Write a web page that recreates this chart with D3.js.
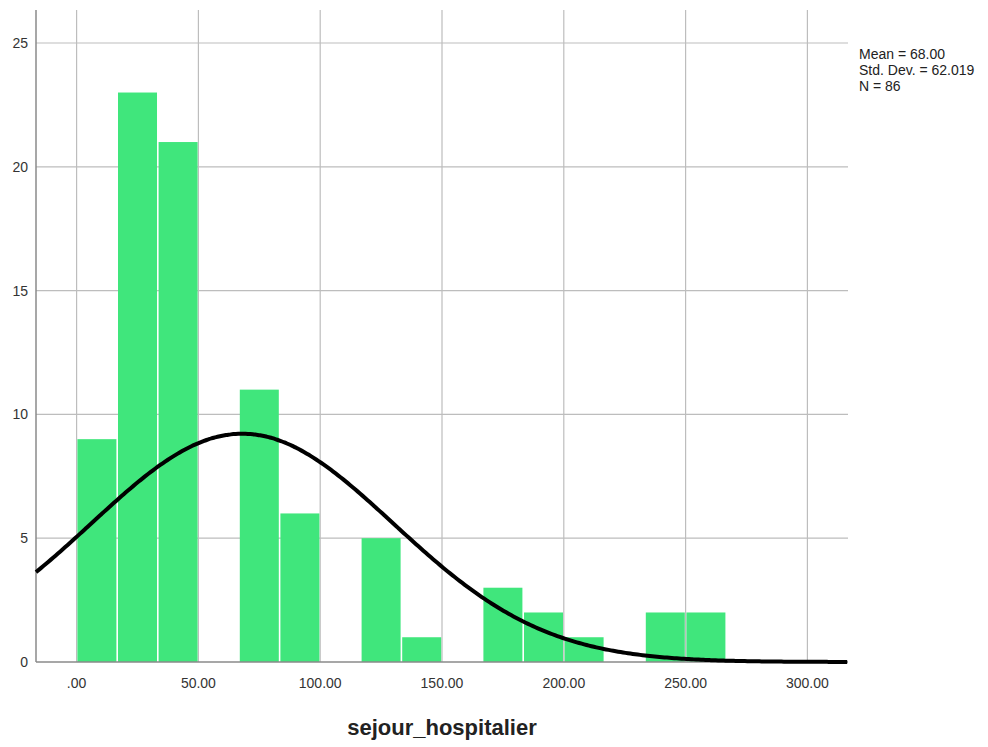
<!DOCTYPE html>
<html><head><meta charset="utf-8">
<script src="https://cdn.jsdelivr.net/npm/d3@7"></script>
<style>body{margin:0;background:#fff;} svg{display:block;font-family:"Liberation Sans",Arial,sans-serif;}</style>
</head><body>
<svg id="chart" width="988" height="747"></svg>
<script>
const binStarts = [0, 16.667, 33.333, 50, 66.667, 83.333, 100, 116.667, 133.333, 150, 166.667, 183.333, 200, 216.667, 233.333, 250];
const counts    = [9, 23, 21, 0, 11, 6, 0, 5, 1, 0, 3, 2, 1, 0, 2, 2];
const binWidth = 16.667;
const xTicks = [0, 50, 100, 150, 200, 250, 300];
const xTickLabels = [".00", "50.00", "100.00", "150.00", "200.00", "250.00", "300.00"];
const yTicks = [0, 5, 10, 15, 20, 25];
const stats = ["Mean = 68.00", "Std. Dev. = 62.019", "N = 86"];
const mean = 68.0, sd = 62.019, n = 86;
const xLabel = "sejour_hospitalier";

const svg = d3.select("#chart");
const L = 36, R = 848, T = 10, B = 662;
const x = d3.scaleLinear().domain([-16.667, 316.667]).range([L, R]);
const y = d3.scaleLinear().domain([0, 25]).range([B, 43]);

const grid = svg.append("g");
grid.selectAll("line.v").data(xTicks).join("line")
  .attr("x1", d => x(d)).attr("x2", d => x(d)).attr("y1", T).attr("y2", B)
  .attr("stroke", "#bdbdbd").attr("stroke-width", 1.2);
grid.selectAll("line.h").data(yTicks.filter(d => d > 0)).join("line")
  .attr("x1", L).attr("x2", R).attr("y1", d => y(d)).attr("y2", d => y(d))
  .attr("stroke", "#bdbdbd").attr("stroke-width", 1.2);

const data = binStarts.map((s, i) => ({s, c: counts[i]})).filter(d => d.c > 0);
svg.append("g").selectAll("rect").data(data).join("rect")
  .attr("x", d => x(d.s) + 0.8)
  .attr("width", d => x(d.s + binWidth) - x(d.s) - 1.6)
  .attr("y", d => y(d.c))
  .attr("height", d => y(0) - y(d.c))
  .attr("fill", "#40e67c");

// axes lines
svg.append("line").attr("x1", L).attr("x2", L).attr("y1", T).attr("y2", B)
  .attr("stroke", "#8a8a8a").attr("stroke-width", 1.5);
svg.append("line").attr("x1", L).attr("x2", R).attr("y1", B).attr("y2", B)
  .attr("stroke", "#8a8a8a").attr("stroke-width", 1.5);

// normal curve
const pdf = v => n * binWidth * Math.exp(-0.5 * ((v - mean) / sd) ** 2) / (sd * Math.sqrt(2 * Math.PI));
const pts = d3.range(-16.667, 316.7, 1).map(v => [v, pdf(v)]);
svg.append("path").datum(pts)
  .attr("d", d3.line().x(d => x(d[0])).y(d => y(d[1])).curve(d3.curveBasis))
  .attr("fill", "none").attr("stroke", "#000").attr("stroke-width", 4);

// tick labels
svg.append("g").selectAll("text").data(yTicks).join("text")
  .attr("x", 28).attr("y", d => y(d)).attr("dy", "0.35em")
  .attr("text-anchor", "end").attr("font-size", 14).attr("fill", "#333")
  .text(d => d);
svg.append("g").selectAll("text").data(xTicks).join("text")
  .attr("x", d => x(d)).attr("y", 688)
  .attr("text-anchor", "middle").attr("font-size", 14).attr("fill", "#333")
  .text((d, i) => xTickLabels[i]);

svg.append("text").attr("x", (L + R) / 2).attr("y", 735)
  .attr("text-anchor", "middle").attr("font-size", 22).attr("font-weight", "bold")
  .attr("fill", "#222").text(xLabel);

svg.append("g").selectAll("text").data(stats).join("text")
  .attr("x", 859).attr("y", (d, i) => 59 + i * 16)
  .attr("font-size", 14).attr("fill", "#222").text(d => d);
</script>
</body></html>
